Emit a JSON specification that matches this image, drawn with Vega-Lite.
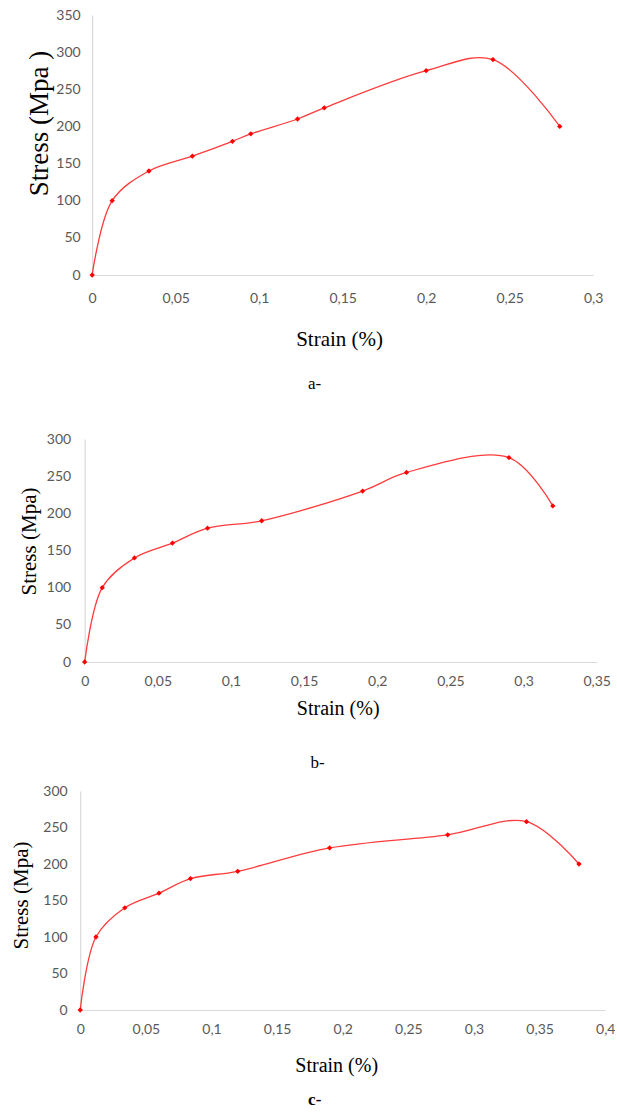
{
  "$schema": "https://vega.github.io/schema/vega-lite/v6.json",
  "background": "white",
  "padding": {"left": 10, "top": 8, "right": 0, "bottom": 2},
  "config": {
    "view": {"stroke": null},
    "axis": {"grid": false, "ticks": false, "domainColor": "#d9d9d9", "domainWidth": 1.2, "labelColor": "#595959", "labelFont": "Lato", "labelFontSize": 14, "labelFlush": false, "labelOverlap": false, "titleFont": "Liberation Serif", "titleFontWeight": "normal", "titleColor": "black"},
    "title": {"font": "Liberation Serif", "fontSize": 17, "fontWeight": "normal", "color": "black"}
  },
  "data": {"values": [
    {"panel": "a", "strain": 0, "stress": 0},
    {"panel": "a", "strain": 0.012, "stress": 100},
    {"panel": "a", "strain": 0.034, "stress": 140},
    {"panel": "a", "strain": 0.06, "stress": 160},
    {"panel": "a", "strain": 0.084, "stress": 180},
    {"panel": "a", "strain": 0.095, "stress": 190},
    {"panel": "a", "strain": 0.123, "stress": 210},
    {"panel": "a", "strain": 0.139, "stress": 225},
    {"panel": "a", "strain": 0.2, "stress": 275},
    {"panel": "a", "strain": 0.24, "stress": 290},
    {"panel": "a", "strain": 0.28, "stress": 200},
    {"panel": "b", "strain": 0, "stress": 0},
    {"panel": "b", "strain": 0.012, "stress": 100},
    {"panel": "b", "strain": 0.034, "stress": 140},
    {"panel": "b", "strain": 0.06, "stress": 160},
    {"panel": "b", "strain": 0.084, "stress": 180},
    {"panel": "b", "strain": 0.121, "stress": 190},
    {"panel": "b", "strain": 0.19, "stress": 230},
    {"panel": "b", "strain": 0.22, "stress": 255},
    {"panel": "b", "strain": 0.29, "stress": 275},
    {"panel": "b", "strain": 0.32, "stress": 210},
    {"panel": "c", "strain": 0, "stress": 0},
    {"panel": "c", "strain": 0.012, "stress": 100},
    {"panel": "c", "strain": 0.034, "stress": 140},
    {"panel": "c", "strain": 0.06, "stress": 160},
    {"panel": "c", "strain": 0.084, "stress": 180},
    {"panel": "c", "strain": 0.12, "stress": 190},
    {"panel": "c", "strain": 0.19, "stress": 222},
    {"panel": "c", "strain": 0.28, "stress": 240},
    {"panel": "c", "strain": 0.34, "stress": 258},
    {"panel": "c", "strain": 0.38, "stress": 200}
  ]},
  "center": true,
  "spacing": 40,
  "vconcat": [
    {
      "width": 501, "height": 260,
      "title": {"text": "a-", "orient": "bottom", "anchor": "middle", "frame": "group", "offset": 27, "dx": -28, "font": "Liberation Serif", "fontWeight": "normal"},
      "transform": [{"filter": "datum.panel === 'a'"}],
      "encoding": {
        "x": {"field": "strain", "type": "quantitative", "scale": {"domain": [0, 0.3], "nice": false},
          "axis": {"values": [0, 0.05, 0.1, 0.15, 0.2, 0.25, 0.3], "labelExpr": "replace(format(datum.value, '~g'), '.', ',')", "title": "Strain (%)", "titleFont": "Liberation Serif", "titleFontWeight": "normal", "titleFontSize": 21, "labelPadding": 16, "titlePadding": 23, "titleX": 247}},
        "y": {"field": "stress", "type": "quantitative", "scale": {"domain": [0, 350], "nice": false},
          "axis": {"values": [0, 50, 100, 150, 200, 250, 300, 350], "title": "Stress (Mpa )", "titleFont": "Liberation Serif", "titleFontWeight": "normal", "titleFontSize": 27, "titleX": -39, "titleY": 108, "labelPadding": 12}}
      },
      "layer": [
        {"mark": {"type": "line", "interpolate": "catmull-rom", "color": "#ff3b3b", "strokeWidth": 1.3}},
        {"mark": {"type": "point", "shape": "diamond", "filled": true, "color": "#ff0000", "size": 28, "opacity": 1}}
      ]
    },
    {
      "center": true,
      "spacing": 13,
      "vconcat": [
        {
          "width": 512, "height": 223,
          "title": {"text": "b-", "orient": "bottom", "anchor": "middle", "frame": "group", "offset": 37, "dx": -23, "font": "Liberation Serif", "fontWeight": "normal"},
          "transform": [{"filter": "datum.panel === 'b'"}],
          "encoding": {
            "x": {"field": "strain", "type": "quantitative", "scale": {"domain": [0, 0.35], "nice": false},
              "axis": {"values": [0, 0.05, 0.1, 0.15, 0.2, 0.25, 0.3, 0.35], "labelExpr": "replace(format(datum.value, '~g'), '.', ',')", "title": "Strain (%)", "titleFont": "Liberation Serif", "titleFontWeight": "normal", "titleFontSize": 20, "labelPadding": 12, "titlePadding": 10, "titleX": 253}},
            "y": {"field": "stress", "type": "quantitative", "scale": {"domain": [0, 300], "nice": false},
              "axis": {"values": [0, 50, 100, 150, 200, 250, 300], "title": "Stress (Mpa)", "titleFont": "Liberation Serif", "titleFontWeight": "normal", "titleFontSize": 21, "titleX": -45.3, "titleY": 102, "labelPadding": 14}}
          },
          "layer": [
            {"mark": {"type": "line", "interpolate": "catmull-rom", "color": "#ff3b3b", "strokeWidth": 1.3}},
            {"mark": {"type": "point", "shape": "diamond", "filled": true, "color": "#ff0000", "size": 28, "opacity": 1}}
          ]
        },
        {
          "width": 525, "height": 219,
          "title": {"text": "c-", "orient": "bottom", "anchor": "middle", "frame": "group", "offset": 17, "dx": -28, "font": "Liberation Serif", "fontWeight": "bold"},
          "transform": [{"filter": "datum.panel === 'c'"}],
          "encoding": {
            "x": {"field": "strain", "type": "quantitative", "scale": {"domain": [0, 0.4], "nice": false},
              "axis": {"values": [0, 0.05, 0.1, 0.15, 0.2, 0.25, 0.3, 0.35, 0.4], "labelExpr": "replace(format(datum.value, '~g'), '.', ',')", "title": "Strain (%)", "titleFont": "Liberation Serif", "titleFontWeight": "normal", "titleFontSize": 20, "labelPadding": 12, "titlePadding": 19, "titleX": 256}},
            "y": {"field": "stress", "type": "quantitative", "scale": {"domain": [0, 300], "nice": false},
              "axis": {"values": [0, 50, 100, 150, 200, 250, 300], "title": "Stress (Mpa)", "titleFont": "Liberation Serif", "titleFontWeight": "normal", "titleFontSize": 21, "titleX": -48.9, "titleY": 104, "labelPadding": 13}}
          },
          "layer": [
            {"mark": {"type": "line", "interpolate": "catmull-rom", "color": "#ff3b3b", "strokeWidth": 1.3}},
            {"mark": {"type": "point", "shape": "diamond", "filled": true, "color": "#ff0000", "size": 28, "opacity": 1}}
          ]
        }
      ]
    }
  ]
}
